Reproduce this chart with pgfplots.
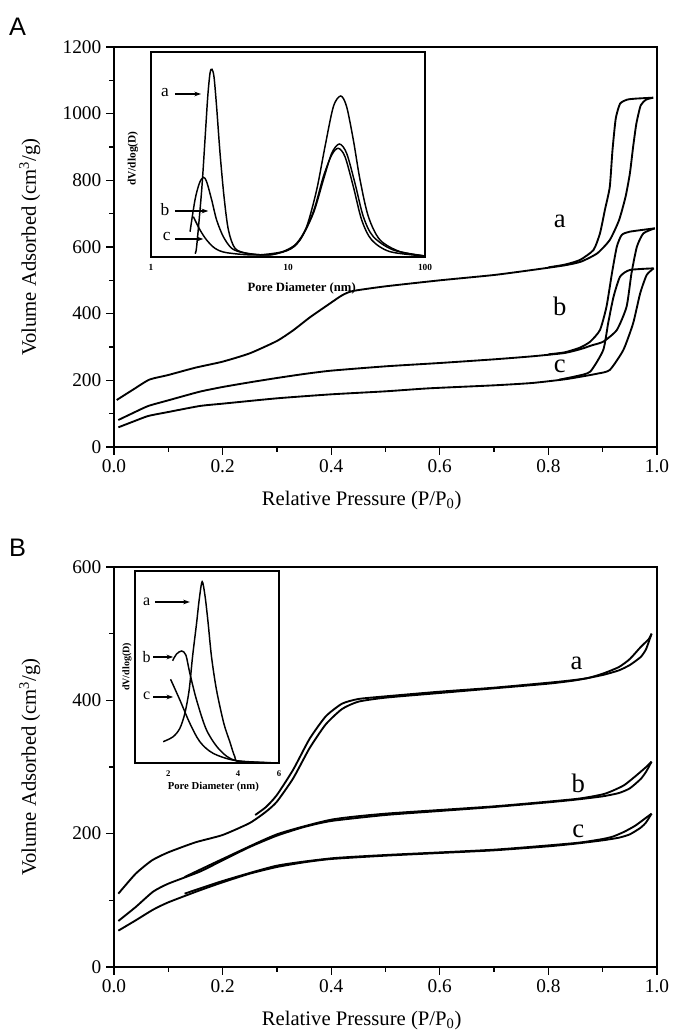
\documentclass[border=0pt]{standalone}
\usepackage{fontspec}
\setmainfont{Liberation Serif}
\newfontfamily\sansA{Liberation Sans}
\usepackage{pgfplots}
\pgfplotsset{compat=1.18}
\usetikzlibrary{arrows.meta}
\tikzset{lab/.style={font=\fontsize{20}{22}\selectfont}}

\pgfplotsset{
 mainax/.style={
  scale only axis, width=407.25pt, height=300pt,
  xmin=0, xmax=1,
  no markers, cycle list={{black,solid}},
  axis line style={line width=1.1pt},
  tick style={line width=1pt, black},
  tick align=outside, xtick pos=bottom, ytick pos=left,
  major tick length=6pt, minor tick length=3.5pt, minor tick num=1,
  xtick={0,0.2,0.4,0.6,0.8,1.0},
  x tick label style={/pgf/number format/.cd, fixed, fixed zerofill, precision=1},
  /pgf/number format/1000 sep={},
  /pgf/number format/assume math mode=true,
  tick label style={font=\fontsize{14.5}{16}\selectfont},
  label style={font=\fontsize{15.5}{17}\selectfont},
  xlabel={Relative Pressure (P/P\textsubscript{0})},
  ylabel={Volume Adsorbed (cm\textsuperscript{3}/g)},
  xlabel style={at={(axis description cs:0.456,-0.133)}, anchor=center},
  ylabel style={at={(axis description cs:-0.155,0.5)}, anchor=center},
  every axis plot post/.append style={line width=1.4pt, black, solid, mark=none, smooth, tension=0.35},
 },
 insetax/.style={
  scale only axis,
  no markers, cycle list={{black,solid}},
  axis line style={line width=0.8pt},
  axis background/.style={fill=white},
  ytick=\empty, xtick pos=bottom, major tick length=0pt, minor tick length=0pt,
  ymin=0,
  /pgf/number format/assume math mode=true,
  every axis plot post/.append style={line width=1.1pt, black, solid, mark=none, smooth, tension=0.5},
 },
}

\begin{document}
\begin{tikzpicture}
\useasboundingbox (0,0) rectangle (504pt,777pt);

% ---------------- Panel A ----------------
\begin{axis}[mainax, at={(85.5pt,441.75pt)}, anchor=south west,
  ymin=0, ymax=1200, ytick={0,200,400,600,800,1000,1200}]
% a
\addplot coordinates {(0.005,141) (0.035,172) (0.065,202) (0.1,216) (0.15,238) (0.2,256) (0.25,281) (0.3,318) (0.33,350) (0.36,388) (0.39,422) (0.42,455) (0.44,468) (0.5,482) (0.6,500) (0.7,516) (0.77,531) (0.83,545) (0.86,556) (0.89,581) (0.913,621) (0.93,680) (0.942,750) (0.95,820) (0.956,900) (0.962,970) (0.97,1025) (0.98,1042) (0.993,1048)};
\addplot coordinates {(0.993,1048) (0.96,1045) (0.945,1042) (0.932,1030) (0.924,985) (0.918,890) (0.913,780) (0.904,711) (0.895,641) (0.883,591) (0.858,561) (0.83,547) (0.8,539)};
% b
\addplot coordinates {(0.008,81) (0.035,102) (0.063,123) (0.1,140) (0.158,166) (0.2,180) (0.25,194) (0.3,207) (0.35,219) (0.4,229) (0.5,242) (0.6,252) (0.7,263) (0.77,272) (0.83,282) (0.86,294) (0.88,305) (0.901,316) (0.926,351) (0.944,421) (0.953,521) (0.963,601) (0.975,641) (0.996,656)};
\addplot coordinates {(0.996,656) (0.95,646) (0.935,636) (0.926,601) (0.917,521) (0.907,421) (0.895,351) (0.877,316) (0.858,298) (0.83,284) (0.8,278)};
% c
\addplot coordinates {(0.008,59) (0.035,76) (0.063,93) (0.1,105) (0.158,123) (0.2,130) (0.3,146) (0.4,158) (0.5,167) (0.58,176) (0.7,185) (0.77,192) (0.83,203) (0.86,211) (0.89,220) (0.913,231) (0.938,291) (0.956,371) (0.969,461) (0.981,516) (0.994,536)};
\addplot coordinates {(0.994,536) (0.95,531) (0.932,511) (0.92,451) (0.91,371) (0.901,291) (0.877,226) (0.85,212) (0.82,202)};
\node[lab] at (axis cs:0.821,676) {a};
\node[lab] at (axis cs:0.821,421) {b};
\node[lab] at (axis cs:0.821,241) {c};
\end{axis}

\begin{axis}[insetax, at={(113.25pt,584.25pt)}, anchor=south west,
  width=205.5pt, height=153.75pt, xmin=0, xmax=2, ymax=205,
  xtick={0,1,2}, xticklabels={1,10,100},
  tick label style={font=\bfseries\fontsize{7}{8}\selectfont, yshift=-2pt},
  xlabel={Pore Diameter (nm)}, ylabel={dV/dlog(D)},
  label style={font=\bfseries\fontsize{9.5}{11}\selectfont},
  xlabel style={at={(axis description cs:0.55,-0.153)}, anchor=center},
  ylabel style={at={(axis description cs:-0.066,0.48)}, anchor=center, font=\bfseries\fontsize{8.5}{10}\selectfont}]
\addplot coordinates {(0.32,4) (0.333,10.3) (0.370,67) (0.394,117) (0.414,160) (0.431,184) (0.445,187.7) (0.460,180) (0.479,150) (0.504,103.7) (0.533,60.3) (0.565,27) (0.613,8.7) (0.698,3.7) (0.80,2.2) (0.893,2.5) (0.99,7) (1.063,13.7) (1.136,30.3) (1.209,67) (1.270,110.3) (1.331,150.3) (1.385,161) (1.428,150.3) (1.477,117) (1.526,77) (1.587,40.3) (1.672,17) (1.818,5.3) (2.0,1)};
\addplot coordinates {(0.285,25.3) (0.321,57) (0.353,73.7) (0.382,79.7) (0.406,75.3) (0.443,57) (0.479,37) (0.528,20.3) (0.589,8.7) (0.674,4.3) (0.844,2) (0.99,6.3) (1.087,17) (1.185,43.7) (1.258,77) (1.319,103.7) (1.375,113) (1.428,103.7) (1.489,73.7) (1.550,40.3) (1.623,20.3) (1.769,7) (2.0,1)};
\addplot coordinates {(0.309,40.3) (0.358,27) (0.406,17) (0.467,8.7) (0.552,4.3) (0.771,2) (0.99,6.3) (1.087,17) (1.185,45.3) (1.258,80.3) (1.319,102) (1.367,108.7) (1.416,100.3) (1.477,70.3) (1.538,37) (1.611,17) (1.745,5.3) (2.0,1)};
\node[font=\fontsize{13}{14}\selectfont] at (axis cs:0.102,164) {a};
\draw[-{Stealth[length=5pt,width=3.5pt]}, line width=0.8pt] (axis cs:0.175,163) -- (axis cs:0.365,163);
\node[font=\fontsize{13}{14}\selectfont] at (axis cs:0.102,47) {b};
\draw[-{Stealth[length=5pt,width=3.5pt]}, line width=0.8pt] (axis cs:0.175,46) -- (axis cs:0.418,46);
\node[font=\fontsize{13}{14}\selectfont] at (axis cs:0.114,20) {c};
\draw[-{Stealth[length=5pt,width=3.5pt]}, line width=0.8pt] (axis cs:0.175,18) -- (axis cs:0.382,18);
\end{axis}

% ---------------- Panel B ----------------
\begin{axis}[mainax, at={(85.5pt,51.75pt)}, anchor=south west,
  ymin=0, ymax=600, ytick={0,200,400,600}]
% a
\addplot coordinates {(0.008,110) (0.04,140) (0.07,160) (0.1,172) (0.15,187) (0.2,198) (0.25,216) (0.28,233) (0.3,248) (0.33,283) (0.36,328) (0.39,364) (0.42,387) (0.45,398) (0.5,404) (0.6,411) (0.7,418) (0.8,425) (0.85,430) (0.9,438) (0.93,445) (0.95,453) (0.97,465) (0.98,477) (0.99,500)};
\addplot coordinates {(0.99,500) (0.985,492) (0.97,480) (0.95,462) (0.93,450) (0.9,440) (0.87,433) (0.82,428) (0.7,419) (0.6,413) (0.5,406) (0.45,402) (0.42,395) (0.39,376) (0.36,342) (0.33,296) (0.3,258) (0.28,240) (0.26,228)};
% b
\addplot coordinates {(0.008,69) (0.04,90) (0.072,113) (0.1,125) (0.158,143) (0.2,160) (0.25,180) (0.3,197) (0.35,210) (0.4,219) (0.5,228) (0.6,234) (0.7,240) (0.8,247) (0.85,251) (0.9,256) (0.93,261) (0.95,268) (0.97,282) (0.98,293) (0.99,308)};
\addplot coordinates {(0.99,308) (0.98,300) (0.96,286) (0.94,273) (0.92,265) (0.9,259) (0.85,252) (0.7,241) (0.5,230) (0.4,221) (0.3,199) (0.2,162) (0.13,135)};
% c
\addplot coordinates {(0.008,54.5) (0.04,70) (0.072,86) (0.1,97) (0.158,115) (0.2,127) (0.25,140) (0.3,150) (0.35,157) (0.4,162) (0.5,167) (0.6,171) (0.7,175) (0.8,181) (0.85,185) (0.9,190) (0.93,194) (0.95,199) (0.97,209) (0.98,217) (0.99,230)};
\addplot coordinates {(0.99,230) (0.98,224) (0.96,212) (0.94,203) (0.92,196) (0.9,192) (0.85,186) (0.7,176) (0.5,168) (0.4,163) (0.3,152) (0.2,129) (0.13,110)};
\node[lab] at (axis cs:0.852,455) {a};
\node[lab] at (axis cs:0.855,275) {b};
\node[lab] at (axis cs:0.855,203) {c};
\end{axis}

\begin{axis}[insetax, at={(101.25pt,204.75pt)}, anchor=south west,
  width=108pt, height=144pt, xmin=0.158, xmax=0.778, ymax=192,
  xtick={0.30103,0.60206,0.77815}, xticklabels={2,4,6},
  tick label style={font=\bfseries\fontsize{6.5}{7}\selectfont, yshift=-2pt},
  xlabel={Pore Diameter (nm)}, ylabel={dV/dlog(D)},
  label style={font=\bfseries\fontsize{8}{9}\selectfont},
  xlabel style={at={(axis description cs:0.544,-0.123)}, anchor=center},
  ylabel style={at={(axis description cs:-0.056,0.5)}, anchor=center, font=\bfseries\fontsize{7.5}{9}\selectfont}]
\addplot coordinates {(0.2795,21.3) (0.3224,26.3) (0.3512,34.7) (0.3727,49.7) (0.3912,73) (0.4058,106.3) (0.4231,139.7) (0.4343,163) (0.4472,181.3) (0.46,166.3) (0.473,139.7) (0.4874,106.3) (0.509,73) (0.5404,39.7) (0.5662,21.3) (0.5877,6.3) (0.6092,1.3) (0.778,0)};
\addplot coordinates {(0.3199,102.3) (0.3371,109) (0.3586,112) (0.377,108) (0.3942,89.7) (0.4231,63) (0.466,33) (0.5232,13) (0.595,2.3) (0.778,0)};
\addplot coordinates {(0.3113,83.7) (0.3512,63) (0.3942,39.7) (0.4372,21.3) (0.4944,9.7) (0.595,2.3) (0.778,0)};
\node[font=\fontsize{12}{13}\selectfont] at (axis cs:0.208,161) {a};
\draw[-{Stealth[length=5pt,width=3.5pt]}, line width=0.8pt] (axis cs:0.2438,161) -- (axis cs:0.394,161);
\node[font=\fontsize{12}{13}\selectfont] at (axis cs:0.208,106) {b};
\draw[-{Stealth[length=5pt,width=3.5pt]}, line width=0.8pt] (axis cs:0.2365,106) -- (axis cs:0.3224,106);
\node[font=\fontsize{12}{13}\selectfont] at (axis cs:0.208,67) {c};
\draw[-{Stealth[length=5pt,width=3.5pt]}, line width=0.8pt] (axis cs:0.2365,66) -- (axis cs:0.3224,66);
\end{axis}

\node[font=\sansA\fontsize{19}{20}\selectfont] at (13.1pt,756.75pt) {A};
\node[font=\sansA\fontsize{19}{20}\selectfont] at (13.1pt,366pt) {B};
\end{tikzpicture}
\end{document}
